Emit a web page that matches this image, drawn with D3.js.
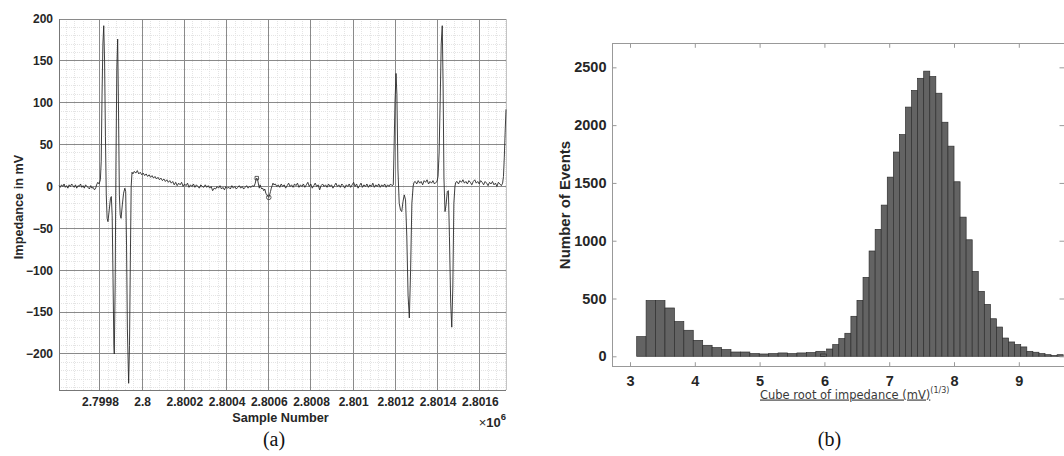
<!DOCTYPE html>
<html>
<head>
<meta charset="utf-8">
<script src="https://cdn.jsdelivr.net/npm/d3@7"></script>
<style>
  body { margin: 0; background: #fff; }
  svg { display: block; }
</style>
</head>
<body>
<div id="chart"></div>
<script>
// ---------- data: (a) impedance trace ----------
const sampleStart = 2799600; // offsets below are added to this
const sampleDomain = [2799606, 2801724];
const mvDomain = [-243, 200];
const sampleTicks = [2799800, 2800000, 2800200, 2800400, 2800600, 2800800, 2801000, 2801200, 2801400, 2801600];
const sampleTickLabels = ["2.7998", "2.8", "2.8002", "2.8004", "2.8006", "2.8008", "2.801", "2.8012", "2.8014", "2.8016"];
const mvTicks = [200, 150, 100, 50, 0, -50, -100, -150, -200];

// [sample offset, impedance in mV]
const impedanceTrace = [
  [6,1],[12,-1],[18,2],[24,0],[30,3],[36,-1],[42,1],[48,-2],[54,2],[60,0],[66,3],[72,1],[78,-1],[84,2],[90,-2],
  [96,1],[102,0],[108,3],[114,-1],[120,1],[126,-2],[132,2],[138,0],[144,-1],[150,-3],[156,1],[162,-2],[168,-1],[174,-4],[180,-2],
  [184,2],[190,5],[196,3],[202,8],[206,30],[210,110],[214,170],[218,192],[222,150],[226,60],[230,-10],[234,-38],[238,-42],
  [244,-28],[250,-14],[254,-12],[258,-35],[262,-110],[266,-190],[268,-200],[272,-120],[276,30],[280,140],[284,176],[288,90],
  [292,-10],[296,-34],[300,-38],[306,-22],[312,-8],[318,-2],[322,-6],[326,-70],[330,-170],[336,-235],[340,-190],[344,-90],[348,0],[352,17],
  [356,15],[363,18],[370,16],[377,19],[384,15],[391,17],[398,14],[405,16],[412,13],[419,15],[426,12],[433,14],[440,11],[447,13],
  [454,10],[461,12],[468,9],[475,11],[482,8],[489,10],[496,7],[503,9],[510,6],[517,8],[524,5],[531,7],[538,4],[545,6],[552,2],
  [559,5],[566,1],[573,4],[580,2],[587,5],[594,0],[601,3],[608,1],[615,4],[622,-1],[629,2],[636,0],[643,3],[650,-1],[657,2],
  [664,0],[671,-2],[678,2],[685,0],[692,-1],[699,2],[706,-1],[713,1],[720,-2],[727,0],[734,-5],[741,-2],[748,-3],[755,0],
  [762,-2],[769,1],[776,-3],[783,-1],[790,-4],[797,0],[804,-2],[811,-1],[818,-3],[825,1],[832,-2],[839,0],[846,-3],[853,-1],
  [860,1],[867,-2],[874,0],[881,-3],[888,-1],[895,1],[902,-2],[909,0],[916,-1],[923,1],[930,0],
  [936,4],[940,9],[943,10],[947,8],[951,3],[955,-2],[959,2],[963,-1],[967,-3],[971,-2],[976,-5],[981,-3],[986,-8],[991,-10],
  [996,-12],[1000,-13],[1004,-10],[1008,-6],[1012,-2],[1016,1],[1020,4],[1024,2],
  [1031,3],[1038,0],[1045,2],[1052,-1],[1059,3],[1066,0],[1073,2],[1080,-2],[1087,1],[1094,4],[1101,0],[1108,2],[1115,-1],
  [1122,3],[1129,1],[1136,4],[1143,-1],[1150,2],[1157,0],[1164,3],[1171,-1],[1178,2],[1185,5],[1192,0],[1199,3],[1206,-2],
  [1213,1],[1220,4],[1227,0],[1234,2],[1241,-4],[1248,1],[1255,3],[1262,0],[1269,2],[1276,-1],[1283,3],[1290,0],[1297,2],
  [1304,-2],[1311,1],[1318,4],[1325,0],[1332,2],[1339,-1],[1346,3],[1353,1],[1360,-2],[1367,2],[1374,0],[1381,3],[1388,-1],
  [1395,2],[1402,5],[1409,0],[1416,3],[1423,-2],[1430,1],[1437,4],[1444,-1],[1451,2],[1458,0],[1465,3],[1472,-1],[1479,2],
  [1486,0],[1493,4],[1500,-1],[1507,2],[1514,0],[1521,3],[1528,-1],[1535,2],[1542,0],[1549,3],[1556,-1],[1563,2],[1570,0],
  [1577,3],[1584,1],
  [1590,2],[1594,50],[1598,100],[1603,135],[1607,110],[1612,20],[1618,-20],[1624,-28],[1630,-30],[1636,-18],[1642,-10],
  [1648,-16],[1654,-60],[1660,-130],[1666,-157],[1672,-100],[1678,-20],[1684,0],[1688,5],
  [1694,6],[1701,3],[1708,7],[1715,4],[1722,6],[1729,2],[1736,7],[1743,5],[1750,8],[1757,3],[1764,6],[1771,4],[1778,7],
  [1785,3],[1792,5],[1797,6],
  [1802,12],[1807,40],[1812,100],[1817,170],[1822,192],[1826,120],[1830,10],[1835,-30],[1840,-22],[1846,-6],[1851,-5],
  [1856,-60],[1862,-140],[1867,-168],[1872,-120],[1877,-20],[1882,0],[1886,5],
  [1892,6],[1899,3],[1906,7],[1913,5],[1920,8],[1927,4],[1934,6],[1941,3],[1948,7],[1955,5],[1962,2],[1969,6],[1976,8],
  [1983,4],[1990,6],[1997,3],[2004,7],[2011,5],[2018,2],[2025,6],[2032,4],[2039,1],[2046,5],[2053,3],[2060,6],[2067,2],
  [2074,4],[2081,0],[2088,5],[2095,3],[2102,1],[2108,4],
  [2112,12],[2116,35],[2120,65],[2124,92]
];
const peakMarker = [943, 10];
const troughMarker = [1000, -13];

// ---------- data: (b) histogram ----------
const cubeRootDomain = [2.722, 9.713];
const countDomain = [-90, 2708];
const cubeRootTicks = [3, 4, 5, 6, 7, 8, 9];
const countTicks = [0, 500, 1000, 1500, 2000, 2500];
const lowBinStart = 3.103, lowBinWidth = 0.1455;
const lowCounts = [170, 482, 482, 418, 300, 225, 138, 95, 75, 58, 37, 37, 23, 20, 23, 29, 23, 29, 32, 43];
const highBinStart = 5.941, highBinWidth = 0.0936;
const highCounts = [20, 63, 101, 153, 199, 346, 484, 683, 911, 1098, 1308, 1550, 1767, 1918, 2156, 2300, 2405, 2467,
  2420, 2276, 2025, 1818, 1510, 1204, 1008, 734, 562, 449, 325, 253, 158, 124, 101, 81, 43, 35, 23, 14, 6, 14];

// ---------- page ----------
const W = 1064, H = 456;
const svg = d3.select("#chart").append("svg").attr("width", W).attr("height", H);
const boldFont = "'Liberation Sans', Arial, sans-serif";

// ===== (a) =====
const a = { left: 59, right: 506, top: 19, bottom: 390 };
const x = d3.scaleLinear().domain(sampleDomain).range([a.left, a.right]);
const y = d3.scaleLinear().domain(mvDomain).range([a.bottom, a.top]);

const gA = svg.append("g");

// minor grid
const minorX = d3.range(2799640, sampleDomain[1], 40).filter(d => d % 200 !== 0);
const minorY = d3.range(-240, 200, 10).filter(d => d % 50 !== 0);
gA.append("g").selectAll("line").data(minorX).enter().append("line")
  .attr("x1", d => x(d)).attr("x2", d => x(d)).attr("y1", a.top).attr("y2", a.bottom)
  .attr("stroke", "#e4e4e4").attr("stroke-dasharray", "1,1").attr("shape-rendering", "crispEdges");
gA.append("g").selectAll("line").data(minorY).enter().append("line")
  .attr("y1", d => y(d)).attr("y2", d => y(d)).attr("x1", a.left).attr("x2", a.right)
  .attr("stroke", "#e4e4e4").attr("stroke-dasharray", "1,1").attr("shape-rendering", "crispEdges");

// major grid
gA.append("g").selectAll("line").data(sampleTicks).enter().append("line")
  .attr("x1", d => x(d)).attr("x2", d => x(d)).attr("y1", a.top).attr("y2", a.bottom)
  .attr("stroke", "#8a8a8a").attr("shape-rendering", "crispEdges");
gA.append("g").selectAll("line").data(mvTicks).enter().append("line")
  .attr("y1", d => y(d)).attr("y2", d => y(d)).attr("x1", a.left).attr("x2", a.right)
  .attr("stroke", "#8a8a8a").attr("shape-rendering", "crispEdges");

// right border + axis lines
gA.append("line").attr("x1", a.right).attr("x2", a.right).attr("y1", a.top).attr("y2", a.bottom)
  .attr("stroke", "#c4c4c4").attr("shape-rendering", "crispEdges");
gA.append("line").attr("x1", a.left).attr("x2", a.left).attr("y1", a.top).attr("y2", a.bottom)
  .attr("stroke", "#777").attr("shape-rendering", "crispEdges");
gA.append("line").attr("x1", a.left).attr("x2", a.right).attr("y1", a.bottom).attr("y2", a.bottom)
  .attr("stroke", "#777").attr("shape-rendering", "crispEdges");

// axes labels
const yAxisA = gA.append("g").attr("transform", `translate(${a.left},0)`)
  .call(d3.axisLeft(y).tickValues(mvTicks).tickSize(0).tickPadding(6));
const xAxisA = gA.append("g").attr("transform", `translate(0,${a.bottom})`)
  .call(d3.axisBottom(x).tickValues(sampleTicks).tickFormat((d, i) => sampleTickLabels[i]).tickSize(0).tickPadding(7.5));
[yAxisA, xAxisA].forEach(g => {
  g.select(".domain").remove();
  g.selectAll("text").attr("font-family", boldFont).attr("font-size", 12)
    .attr("font-weight", "bold").attr("fill", "#262626");
});

// trace
gA.append("path").datum(impedanceTrace)
  .attr("d", d3.line().x(d => x(sampleStart + d[0])).y(d => y(d[1])))
  .attr("fill", "none").attr("stroke", "#2a2a2a").attr("stroke-width", 0.9)
  .attr("stroke-linejoin", "round");

gA.append("path")
  .attr("d", d3.symbol(d3.symbolSquare, 12)())
  .attr("transform", `translate(${x(sampleStart + peakMarker[0])},${y(peakMarker[1])})`)
  .attr("fill", "none").attr("stroke", "#333").attr("stroke-width", 0.8);
gA.append("circle")
  .attr("cx", x(sampleStart + troughMarker[0])).attr("cy", y(troughMarker[1])).attr("r", 2.3)
  .attr("fill", "none").attr("stroke", "#333").attr("stroke-width", 0.8);

// titles
gA.append("text").attr("transform", "translate(18.5,207) rotate(-90)")
  .attr("text-anchor", "middle").attr("dy", "0.35em")
  .attr("font-family", boldFont).attr("font-size", 12.7).attr("font-weight", "bold").attr("fill", "#262626")
  .text("Impedance in mV");
gA.append("text").attr("x", (a.left + a.right) / 2 - 2).attr("y", 422)
  .attr("text-anchor", "middle")
  .attr("font-family", boldFont).attr("font-size", 12.7).attr("font-weight", "bold").attr("fill", "#262626")
  .text("Sample Number");
const expo = gA.append("text").attr("x", 506).attr("y", 427).attr("text-anchor", "end")
  .attr("font-family", boldFont).attr("font-size", 13).attr("fill", "#262626");
expo.append("tspan").text("×");
expo.append("tspan").attr("font-weight", "bold").text("10");
expo.append("tspan").attr("font-weight", "bold").attr("font-size", 9.5).attr("dy", -7).text("6");

svg.append("text").attr("x", 274).attr("y", 446).attr("text-anchor", "middle")
  .attr("font-family", "'Liberation Serif', 'Times New Roman', serif").attr("font-size", 20).attr("fill", "#111")
  .text("(a)");

// ===== (b) =====
const b = { left: 612, right: 1065, top: 43.3, bottom: 366.7 };
const xb = d3.scaleLinear().domain(cubeRootDomain).range([b.left, b.right]);
const yb = d3.scaleLinear().domain(countDomain).range([b.bottom, b.top]);
const gB = svg.append("g");

const bins = lowCounts.map((c, i) => ({ x0: lowBinStart + i * lowBinWidth, x1: lowBinStart + (i + 1) * lowBinWidth, n: c }))
  .concat(highCounts.map((c, i) => ({ x0: highBinStart + i * highBinWidth, x1: highBinStart + (i + 1) * highBinWidth, n: c })));

gB.append("clipPath").attr("id", "clipB").append("rect")
  .attr("x", b.left).attr("y", b.top).attr("width", b.right - b.left).attr("height", b.bottom - b.top);

gB.append("g").attr("clip-path", "url(#clipB)")
  .selectAll("rect").data(bins).enter().append("rect")
  .attr("x", d => xb(d.x0)).attr("width", d => xb(d.x1) - xb(d.x0))
  .attr("y", d => yb(d.n)).attr("height", d => yb(0) - yb(d.n))
  .attr("fill", "#636363").attr("stroke", "#2f2f2f").attr("stroke-width", 0.7);

// box
gB.append("rect").attr("x", b.left).attr("y", b.top).attr("width", b.right - b.left).attr("height", b.bottom - b.top)
  .attr("fill", "none").attr("stroke", "#999").attr("shape-rendering", "crispEdges");

const tickLen = 4.5;
const xbAxis = gB.append("g").attr("transform", `translate(0,${b.bottom})`)
  .call(d3.axisBottom(xb).tickValues(cubeRootTicks).tickFormat(d3.format("d")).tickSize(-tickLen).tickPadding(9));
gB.append("g").attr("transform", `translate(0,${b.top})`)
  .call(d3.axisTop(xb).tickValues(cubeRootTicks).tickFormat("").tickSize(-tickLen));
const ybAxis = gB.append("g").attr("transform", `translate(${b.left},0)`)
  .call(d3.axisLeft(yb).tickValues(countTicks).tickFormat(d3.format("d")).tickSize(-tickLen).tickPadding(5.5));
gB.append("g").attr("transform", `translate(${b.right - 1},0)`)
  .call(d3.axisRight(yb).tickValues(countTicks).tickFormat("").tickSize(-tickLen));
gB.selectAll(".domain").remove();
gB.selectAll(".tick line").attr("stroke", "#999");
[xbAxis, ybAxis].forEach(g => g.selectAll("text")
  .attr("font-family", boldFont).attr("font-size", 14.5).attr("font-weight", "bold").attr("fill", "#262626"));

gB.append("text").attr("transform", "translate(565,205) rotate(-90)")
  .attr("text-anchor", "middle").attr("dy", "0.35em")
  .attr("font-family", boldFont).attr("font-size", 15).attr("font-weight", "bold").attr("fill", "#262626")
  .text("Number of Events");

const xlab = gB.append("text").attr("x", 760).attr("y", 398.5)
  .attr("font-family", "'DejaVu Sans', sans-serif").attr("font-size", 11.5).attr("fill", "#3a3a3a");
xlab.append("tspan").attr("text-decoration", "underline").text("Cube root of impedance (mV)");
xlab.append("tspan").attr("font-size", 8).attr("dy", -6).text("(1/3)");

svg.append("text").attr("x", 829.5).attr("y", 446).attr("text-anchor", "middle")
  .attr("font-family", "'Liberation Serif', 'Times New Roman', serif").attr("font-size", 20).attr("fill", "#111")
  .text("(b)");
</script>
</body>
</html>
